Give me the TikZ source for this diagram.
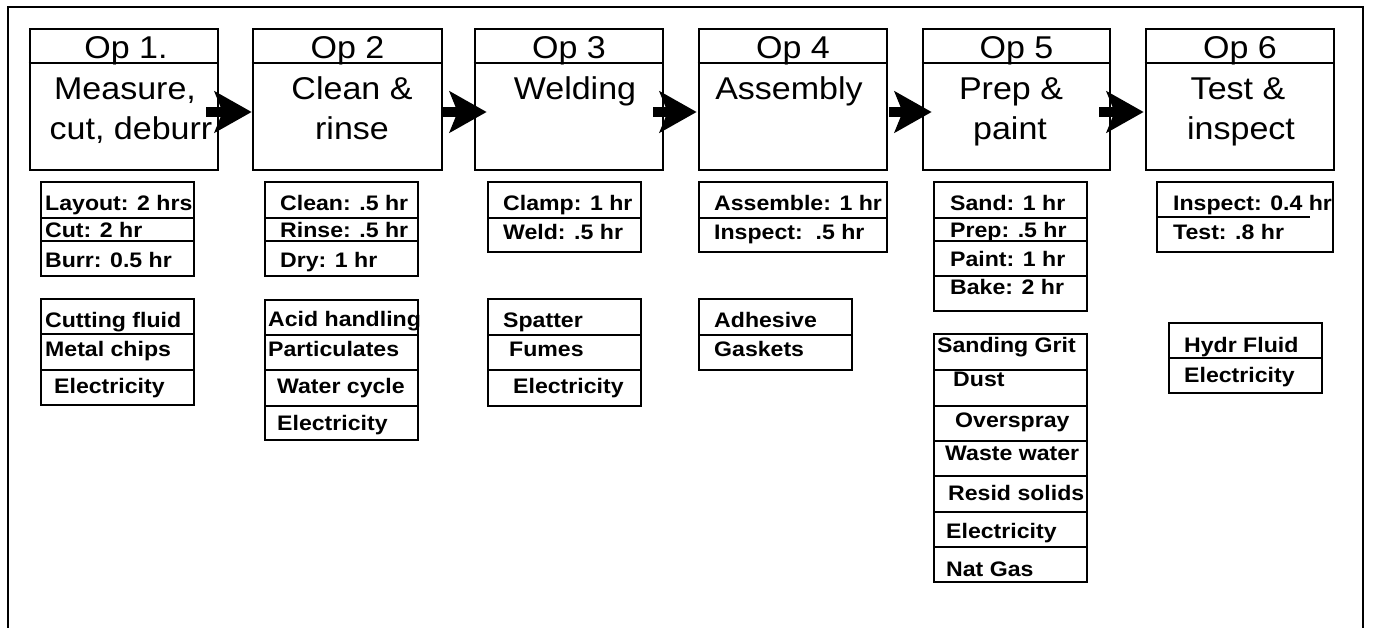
\documentclass[tikz,border=0pt]{standalone}
\usepackage{fontspec}
\setmainfont{Liberation Sans}
\newfontfamily\opfont[FakeStretch=1.08]{Liberation Sans}
\newfontfamily\bfont[FakeStretch=1.1]{Liberation Sans}
\usetikzlibrary{arrows.meta}
\tikzset{
  opbox/.style={draw, line width=2.7pt, minimum width=188pt, minimum height=141pt, inner sep=0pt},
  infobox/.style={draw, line width=1.9pt, inner sep=0pt},
  optxt/.style={inner sep=0pt, anchor=base, font=\opfont\fontsize{31.5}{31.5}\selectfont},
  itxt/.style={inner sep=0pt, anchor=base west, font=\bfont\bfseries\fontsize{21}{21}\selectfont},
  divline/.style={line width=1.7pt},
  titleline/.style={line width=2.5pt},
  bigarrow/.style={line width=10pt, -{Stealth[length=37pt,width=41pt,inset=8pt]}},
  frameline/.style={line width=2.2pt}
}
\begin{document}
\begin{tikzpicture}[x=1pt,y=-1pt]
\useasboundingbox (0,0) rectangle (1374,628);
\fill[white] (0,0) rectangle (1374,628);
% outer frame (open at bottom)
\coordinate (fbl) at (8,628);
\coordinate (ftl) at (8,7);
\coordinate (ftr) at (1363,7);
\coordinate (fbr) at (1363,628);
\draw[frameline] (fbl) -- (ftl) -- (ftr) -- (fbr);

% operation boxes
\node[opbox] (op1) at (124,99.5) {};
\node[opbox,minimum width=189pt] (op2) at (347.5,99.5) {};
\node[opbox] (op3) at (569,99.5) {};
\node[opbox] (op4) at (793,99.5) {};
\node[opbox,minimum width=187pt] (op5) at (1016.5,99.5) {};
\node[opbox] (op6) at (1240,99.5) {};
\foreach \n in {op1,op2,op3,op4,op5,op6}{
  \draw[titleline] (\n.west |- 0,63) -- (\n.east |- 0,63);
}
% titles
\node[optxt] (op1t) at (126,58.5) {Op 1.};
\node[optxt] (op2t) at (347.5,58.5) {Op 2};
\node[optxt] (op3t) at (569,58.5) {Op 3};
\node[optxt] (op4t) at (793,58.5) {Op 4};
\node[optxt] (op5t) at (1016.5,58.5) {Op 5};
\node[optxt] (op6t) at (1240,58.5) {Op 6};
% bodies
\node[optxt] (op1a) at (125,100) {Measure,};
\node[optxt] (op1b) at (131,140) {cut, deburr};
\node[optxt] (op2a) at (352,100) {Clean \&};
\node[optxt] (op2b) at (352,140) {rinse};
\node[optxt] (op3a) at (575,100) {Welding};
\node[optxt] (op4a) at (789,100) {Assembly};
\node[optxt] (op5a) at (1011,100) {Prep \&};
\node[optxt] (op5b) at (1010,140) {paint};
\node[optxt] (op6a) at (1238,100) {Test \&};
\node[optxt] (op6b) at (1241,140) {inspect};

% arrows
\draw[bigarrow] ([shift={(-13,12.5)}]op1.east) -- ([shift={(0,12.5)}]op2.west);
\draw[bigarrow] ([shift={(0,12.5)}]op2.east) -- ([shift={(13,12.5)}]op3.west);
\draw[bigarrow] ([shift={(-11,12.5)}]op3.east) -- ([shift={(-1,12.5)}]op4.west);
\draw[bigarrow] ([shift={(1,12.5)}]op4.east) -- ([shift={(10,12.5)}]op5.west);
\draw[bigarrow] ([shift={(-12,12.5)}]op5.east) -- ([shift={(-1,12.5)}]op6.west);

% info boxes
\node[infobox,minimum width=153pt,minimum height=94pt] (t1) at (117.5,229) {};
\node[infobox,minimum width=153pt,minimum height=106pt] (e1) at (117.5,352) {};
\node[infobox,minimum width=153pt,minimum height=94pt] (t2) at (341.5,229) {};
\node[infobox,minimum width=153pt,minimum height=140pt] (e2) at (341.5,370) {};
\node[infobox,minimum width=153pt,minimum height=70pt] (t3) at (564.5,217) {};
\node[infobox,minimum width=153pt,minimum height=107pt] (e3) at (564.5,352.5) {};
\node[infobox,minimum width=188pt,minimum height=70pt] (t4) at (793,217) {};
\node[infobox,minimum width=153pt,minimum height=71pt] (e4) at (775.5,334.5) {};
\node[infobox,minimum width=153pt,minimum height=129pt] (t5) at (1010.5,246.5) {};
\node[infobox,minimum width=153pt,minimum height=248pt] (e5) at (1010.5,458) {};
\node[infobox,minimum width=176pt,minimum height=70pt] (t6) at (1245,217) {};
\node[infobox,minimum width=153pt,minimum height=70pt] (e6) at (1245.5,358) {};

% dividers
\foreach \b/\y in {t1/218,t1/241,e1/334,e1/370,t2/218,t2/241,e2/335,e2/370,e2/406,
  t3/218,e3/335,e3/370,t4/218,e4/335,t5/218,t5/241,t5/276,
  e5/370,e5/406,e5/441,e5/476,e5/512,e5/547,e6/358}{
  \draw[divline] (\b.west |- 0,\y) -- (\b.east |- 0,\y);
}
\draw[divline] (t6.west |- 0,217) -- ([xshift=-24pt]t6.east |- 0,217);

% texts
\node[itxt] (t1a) at (45,211) {Layout: 2 hrs};
\node[itxt] (t1b) at (45,238) {Cut: 2 hr};
\node[itxt] (t1c) at (45,268) {Burr: 0.5 hr};
\node[itxt] (e1a) at (45,328) {Cutting fluid};
\node[itxt] (e1b) at (45,357) {Metal chips};
\node[itxt] (e1c) at (54,393) {Electricity};

\node[itxt] (t2a) at (280,211) {Clean: .5 hr};
\node[itxt] (t2b) at (280,238) {Rinse: .5 hr};
\node[itxt] (t2c) at (280,268) {Dry: 1 hr};
\node[itxt] (e2a) at (268,327) {Acid handling};
\node[itxt] (e2b) at (268,357) {Particulates};
\node[itxt] (e2c) at (277,393) {Water cycle};
\node[itxt] (e2d) at (277,430) {Electricity};

\node[itxt] (t3a) at (503,211) {Clamp: 1 hr};
\node[itxt] (t3b) at (503,240) {Weld: .5 hr};
\node[itxt] (e3a) at (503,328) {Spatter};
\node[itxt] (e3b) at (509,357) {Fumes};
\node[itxt] (e3c) at (513,393) {Electricity};

\node[itxt] (t4a) at (714,211) {Assemble: 1 hr};
\node[itxt] (t4b) at (714,240) {Inspect:\ \ .5 hr};
\node[itxt] (e4a) at (714,328) {Adhesive};
\node[itxt] (e4b) at (714,357) {Gaskets};

\node[itxt] (t5a) at (950,211) {Sand: 1 hr};
\node[itxt] (t5b) at (950,238) {Prep: .5 hr};
\node[itxt] (t5c) at (950,267) {Paint: 1 hr};
\node[itxt] (t5d) at (950,295) {Bake: 2 hr};
\node[itxt] (e5a) at (937,353) {Sanding Grit};
\node[itxt] (e5b) at (953,387) {Dust};
\node[itxt] (e5c) at (955,427) {Overspray};
\node[itxt] (e5d) at (945,460) {Waste water};
\node[itxt] (e5e) at (948,500) {Resid solids};
\node[itxt] (e5f) at (946,538) {Electricity};
\node[itxt] (e5g) at (946,576) {Nat Gas};

\node[itxt] (t6a) at (1173,211) {Inspect: 0.4 hr};
\node[itxt] (t6b) at (1173,240) {Test: .8 hr};
\node[itxt] (e6a) at (1184,353) {Hydr Fluid};
\node[itxt] (e6b) at (1184,382) {Electricity};
\end{tikzpicture}
\end{document}
